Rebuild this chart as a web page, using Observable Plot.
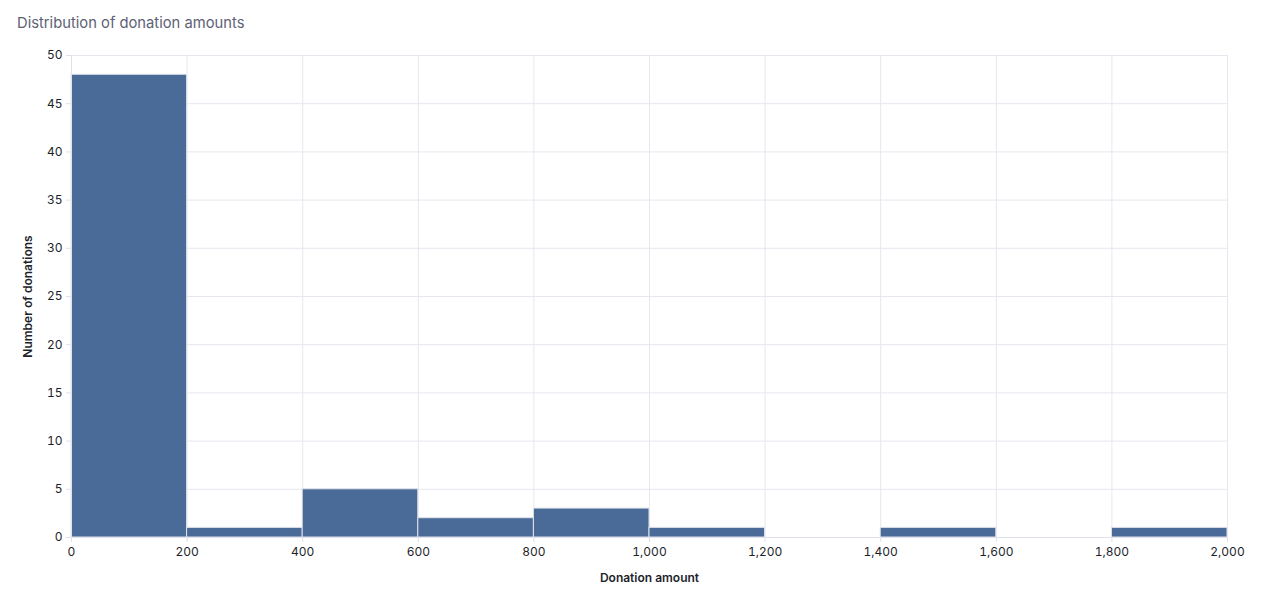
<!DOCTYPE html>
<html>
<head>
<meta charset="utf-8">
<script src="https://cdn.jsdelivr.net/npm/d3@7"></script>
<script src="https://cdn.jsdelivr.net/npm/@observablehq/plot@0.6"></script>
<style>
  body { margin: 0; background: #fff; font-family: "Inter", "Noto Sans", sans-serif; }
  #titulo { padding: 14px 0 0 17px; height: 26px; font-size: 14.75px; color: #5d6175; }
</style>
</head>
<body>
<div id="titulo">Distribution of donation amounts</div>
<div id="grafico"></div>
<script>
// bins de 200 en 200 y cantidad de donaciones por bin
const binStart = [0, 200, 400, 600, 800, 1000, 1200, 1400, 1600, 1800]
const binEnd = [200, 400, 600, 800, 1000, 1200, 1400, 1600, 1800, 2000]
const counts = [48, 1, 5, 2, 3, 1, 0, 1, 0, 1]
const xTicks = [0, 200, 400, 600, 800, 1000, 1200, 1400, 1600, 1800, 2000]
const yTicks = [0, 5, 10, 15, 20, 25, 30, 35, 40, 45, 50]

const bins = binStart.map((d, i) => ({x1: d, x2: binEnd[i], n: counts[i]}))

const chart = Plot.plot({
  width: 1273,
  height: 557,
  marginTop: 15,
  marginBottom: 60,
  marginLeft: 71,
  marginRight: 46,
  style: {fontFamily: "Inter, 'Noto Sans', sans-serif", fontSize: "12px", color: "#1d1f2b"},
  x: {domain: [0, 2000], ticks: xTicks, tickFormat: d3.format(","), label: null, tickSize: 5, tickPadding: 5},
  y: {domain: [0, 50], ticks: yTicks, label: null, tickSize: 5, tickPadding: 4},
  marks: [
    Plot.gridX(xTicks, {stroke: "#e6e7ef", strokeOpacity: 1}),
    Plot.gridY(yTicks, {stroke: "#e6e7ef", strokeOpacity: 1}),
    Plot.rectY(bins.filter(d => d.n > 0), {x1: "x1", x2: "x2", y: "n", fill: "#4a6b98", stroke: "#dfe3ec", strokeWidth: 1}),
    Plot.axisX({ticks: xTicks, tickFormat: d3.format(","), stroke: "#e0e1ea", label: null, tickSize: 5, tickPadding: 5}),
    Plot.axisY({ticks: yTicks, stroke: "#e0e1ea", label: null, tickSize: 5, tickPadding: 4}),
    Plot.ruleY([0], {stroke: "#e0e1ea"}),
    Plot.ruleX([0], {stroke: "#e0e1ea"}),
    Plot.text(["Donation amount"], {frameAnchor: "bottom", dy: 44, fontWeight: 600, fontSize: 12}),
    Plot.text(["Number of donations"], {frameAnchor: "left", textAnchor: "middle", dx: -43, rotate: -90, fontWeight: 600, fontSize: 12})
  ]
})

d3.select('#grafico').append(() => chart)
</script>
</body>
</html>
